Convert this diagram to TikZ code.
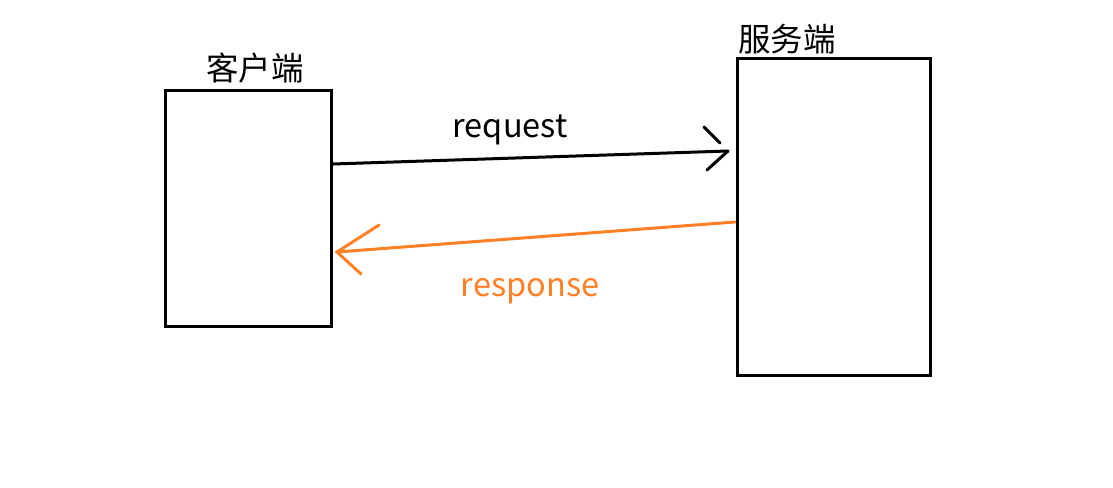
\documentclass[tikz,border=0pt]{standalone}
\usepackage{fontspec}
\setmainfont{Noto Sans CJK SC}
\definecolor{resp}{RGB}{255,128,39}
\begin{document}
\begin{tikzpicture}[x=1pt,y=-1pt,
  box/.style={draw=black,line width=3pt},
  lbl/.style={font=\fontsize{32.5}{38}\selectfont,inner sep=0pt},
  conn/.style={line width=3pt,line cap=round}]
\useasboundingbox[fill=white] (0,0) rectangle (1113,487);
\draw[box] (165.5,90.5) rectangle (331.5,326);
\draw[box] (737.5,58.5) rectangle (930,375.5);
\coordinate (c1) at (333,164);
\coordinate (s1) at (728,151);
\coordinate (s2) at (735,222);
\coordinate (c2) at (337,252);
\node[lbl,anchor=base] (client) at (255,81) {客户端};
\node[lbl,anchor=base] (server) at (787,52) {服务端};
\node[lbl,anchor=base] (req) at (510,137) {request};
\node[lbl,anchor=base,text=resp] (res) at (530,296) {response};
\draw[conn] (c1) -- (s1);
\draw[conn] (704,127) -- (720,143);
\draw[conn] (s1) -- (707,170);
\draw[conn,resp] (s2) -- (c2);
\draw[conn,resp] (379,225) -- (c2) -- (361,274);
\end{tikzpicture}
\end{document}
